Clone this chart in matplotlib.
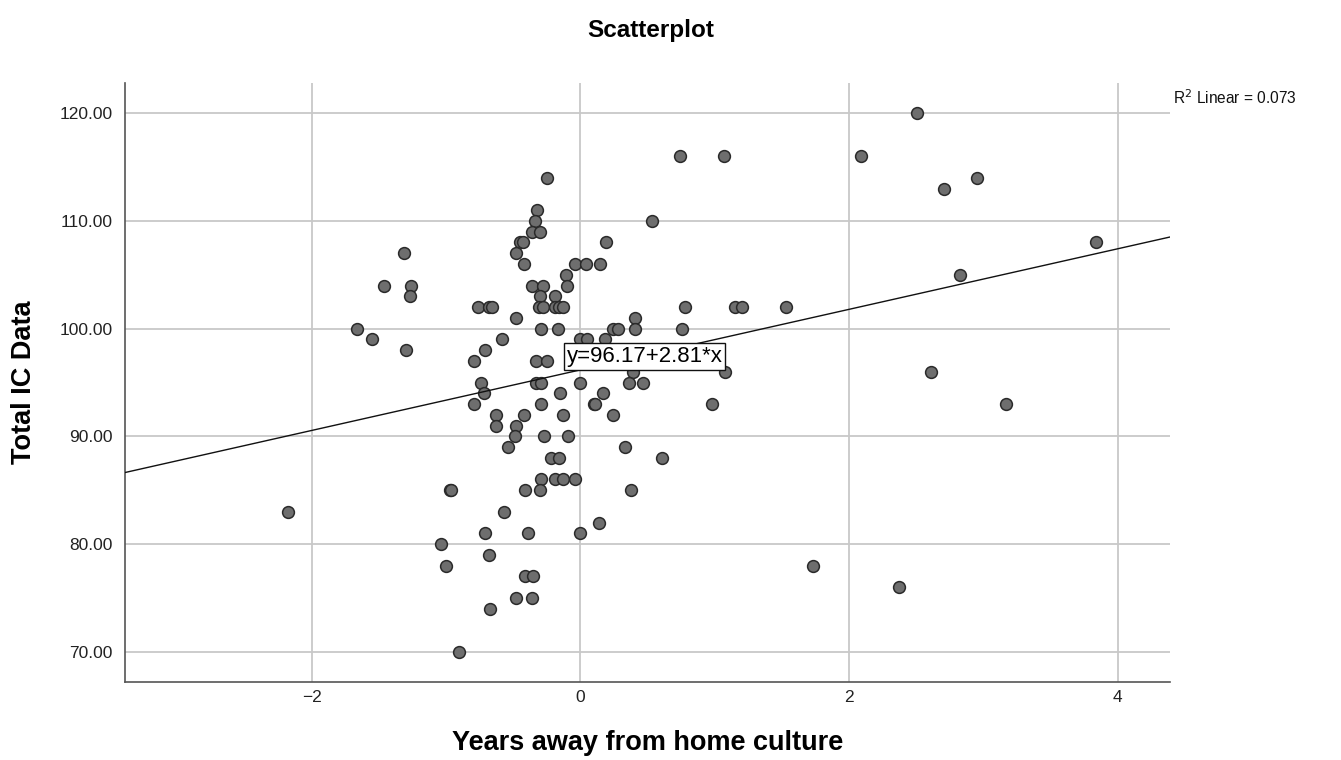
import matplotlib
matplotlib.use("Agg")
import matplotlib.pyplot as plt
from matplotlib.ticker import FormatStrFormatter, FixedLocator

plt.rcParams['font.family'] = ['Liberation Sans', 'DejaVu Sans']

# ---- data ----
years_away = [
    2.51,
    0.74, 1.07, 2.09,
    -0.25, 2.95,
    2.71,
    -0.32,
    -0.34, 0.53,
    -0.36, -0.30,
    -0.45, -0.43, 0.19, 3.84,
    -1.31, -0.48,
    -0.42, -0.04, 0.04, 0.15,
    -0.11, 2.83,
    -1.46, -1.26, -0.36, -0.28, -0.10,
    -1.27, -0.30, -0.19,
    -0.76, -0.68, -0.66, -0.31, -0.28, -0.19, -0.16, -0.13, 0.78, 1.15, 1.20, 1.53,
    -0.48, 0.41,
    -1.66, -0.29, -0.17, 0.24, 0.28, 0.41, 0.76,
    -1.55, -0.58, 0.00, 0.05, 0.18,
    -1.30, -0.71,
    -0.79, -0.33, -0.25,
    0.39, 1.08, 2.61,
    -0.74, -0.33, -0.29, 0.00, 0.36, 0.47,
    -0.72, -0.15, 0.17,
    -0.79, -0.29, 0.10, 0.11, 0.98, 3.17,
    -0.63, -0.42, -0.13, 0.24,
    -0.63, -0.48,
    -0.49, -0.27, -0.09,
    -0.54, 0.33,
    -0.22, -0.16, 0.61,
    -0.29, -0.19, -0.13, -0.04,
    -0.97, -0.96, -0.41, -0.30, 0.38,
    -2.18, -0.57,
    0.14,
    -0.71, -0.39, 0.00,
    -1.04,
    -0.68,
    -1.00, 1.73,
    -0.41, -0.35,
    2.37,
    -0.48, -0.36,
    -0.67,
    -0.90,
]
total_ic = [
    120,
    116, 116, 116,
    114, 114,
    113,
    111,
    110, 110,
    109, 109,
    108, 108, 108, 108,
    107, 107,
    106, 106, 106, 106,
    105, 105,
    104, 104, 104, 104, 104,
    103, 103, 103,
    102, 102, 102, 102, 102, 102, 102, 102, 102, 102, 102, 102,
    101, 101,
    100, 100, 100, 100, 100, 100, 100,
    99, 99, 99, 99, 99,
    98, 98,
    97, 97, 97,
    96, 96, 96,
    95, 95, 95, 95, 95, 95,
    94, 94, 94,
    93, 93, 93, 93, 93, 93,
    92, 92, 92, 92,
    91, 91,
    90, 90, 90,
    89, 89,
    88, 88, 88,
    86, 86, 86, 86,
    85, 85, 85, 85, 85,
    83, 83,
    82,
    81, 81, 81,
    80,
    79,
    78, 78,
    77, 77,
    76,
    75, 75,
    74,
    70,
]
fit_intercept = 96.17
fit_slope = 2.81
r_squared = 0.073
x_ticks = [-2, 0, 2, 4]
y_ticks = [70, 80, 90, 100, 110, 120]

title = "Scatterplot"
x_label = "Years away from home culture"
y_label = "Total IC Data"

# ---- figure ----
fig = plt.figure(figsize=(13.41, 7.60), dpi=100)
ax = fig.add_axes([0.0932, 0.1026, 0.7793, 0.7882])

xlim = (-3.39, 4.39)
ylim = (67.2, 122.8)
ax.set_xlim(*xlim)
ax.set_ylim(*ylim)

grid_color = "#c8c8c8"
ax.xaxis.set_major_locator(FixedLocator(x_ticks))
ax.yaxis.set_major_locator(FixedLocator(y_ticks))
ax.yaxis.set_major_formatter(FormatStrFormatter("%.2f"))
ax.grid(True, color=grid_color, linewidth=1.3, zorder=0)
ax.set_axisbelow(True)
ax.tick_params(axis='both', length=0, labelsize=12.5, colors="#222222")
ax.tick_params(axis='y', pad=9)
ax.tick_params(axis='x', pad=6)

for side in ("top", "right"):
    ax.spines[side].set_visible(False)
for side in ("left", "bottom"):
    ax.spines[side].set_color("#555555")
    ax.spines[side].set_linewidth(1.2)

ax.scatter(years_away, total_ic, s=72, facecolor="#6e6e6e",
           edgecolor="#2a2a2a", linewidth=1.1, zorder=3)

# regression line
lx = list(xlim)
ly = [fit_intercept + fit_slope * v for v in lx]
ax.plot(lx, ly, color="#111111", linewidth=1.0, zorder=4)

ax.text(-0.10, 97.4, f"y={fit_intercept:.2f}+{fit_slope:.2f}*x", fontsize=16,
        ha="left", va="center", zorder=6,
        bbox=dict(boxstyle="square,pad=0.12", facecolor="white",
                  edgecolor="#111111", linewidth=1.0))

fig.text(0.8747, 0.872, f"R$^2$ Linear = {r_squared:.3f}", fontsize=11.2,
         ha="left", va="center", color="#111111")

fig.text(0.4855, 0.960, title, fontsize=17.5, fontweight="bold",
         ha="center", va="center")
ax.set_xlabel(x_label, fontsize=19.5, fontweight="bold", labelpad=18)
ax.set_ylabel(y_label, fontsize=19.5, fontweight="bold", labelpad=16)

fig.savefig("out.png", dpi=100)
